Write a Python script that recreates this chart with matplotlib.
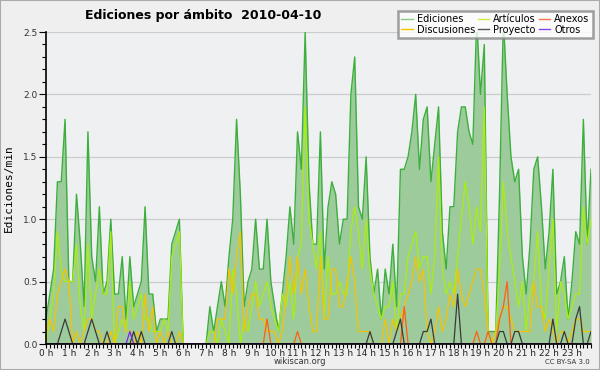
import matplotlib
matplotlib.use("Agg")
import matplotlib.pyplot as plt
import matplotlib.lines as mlines
import numpy as np

# 10-minute slots, 144 values (edits per minute)
ediciones = [0.2, 0.4, 0.6, 1.3, 1.3, 1.8, 0.5, 0.5, 1.2, 0.8, 0.3, 1.7, 0.7, 0.5, 1.1, 0.4, 0.5, 1.0,
             0.4, 0.4, 0.7, 0.2, 0.7, 0.3, 0.4, 0.5, 1.1, 0.4, 0.4, 0.1, 0.2, 0.2, 0.2, 0.8, 0.9, 1.0,
             0, 0, 0, 0, 0, 0, 0, 0.3, 0.1, 0.3, 0.5, 0.3, 0.7, 1.0, 1.8, 1.2, 0.3, 0.5,
             0.6, 1.0, 0.6, 0.6, 1.0, 0.5, 0.3, 0.1, 0.4, 0.7, 1.1, 0.8, 1.7, 1.4, 2.5, 1.3, 0.8, 0.8,
             1.7, 0.6, 1.1, 1.3, 1.2, 0.8, 1.0, 1.0, 2.0, 2.3, 1.1, 1.0, 1.5, 0.7, 0.4, 0.6, 0.2, 0.6,
             0.4, 0.8, 0.3, 1.4, 1.4, 1.5, 1.7, 2.0, 1.4, 1.8, 1.9, 1.3, 1.6, 1.9, 0.9, 0.6, 1.1, 1.1,
             1.7, 1.9, 1.9, 1.7, 1.6, 2.6, 2.0, 2.4, 0.1, 0.1, 0.1, 1.2, 2.6, 2.0, 1.5, 1.3, 1.4, 0.7,
             0.4, 0.8, 1.4, 1.5, 1.1, 0.6, 0.9, 1.4, 0.4, 0.5, 0.7, 0.2, 0.5, 0.9, 0.8, 1.8, 0.8, 1.4]
articulos = [0.0, 0.2, 0.4, 0.9, 0.6, 0.5, 0.5, 0.5, 0.8, 0.3, 0.1, 0.8, 0.2, 0.4, 0.6, 0.4, 0.4, 0.9,
             0.0, 0.1, 0.2, 0.1, 0.5, 0.2, 0.3, 0.4, 0.2, 0.2, 0.1, 0.1, 0.1, 0.2, 0.1, 0.7, 0.8, 0.9,
             0, 0, 0, 0, 0, 0, 0, 0.1, 0.1, 0.0, 0.2, 0.1, 0.0, 0.6, 0.4, 0.0, 0.2, 0.1,
             0.3, 0.5, 0.3, 0.4, 0.5, 0.3, 0.2, 0.1, 0.4, 0.3, 0.5, 0.2, 0.7, 0.8, 1.9, 1.0, 0.8, 0.6,
             0.9, 0.2, 0.7, 0.4, 0.4, 0.5, 0.4, 0.4, 0.9, 1.1, 0.9, 0.6, 1.0, 0.6, 0.4, 0.3, 0.2, 0.3,
             0.3, 0.5, 0.1, 0.4, 0.4, 0.7, 0.8, 0.9, 0.6, 0.7, 0.7, 0.4, 0.7, 1.5, 0.6, 0.4, 0.5, 0.4,
             0.7, 1.0, 1.3, 1.1, 0.8, 1.1, 0.9, 1.9, 0.1, 0.0, 0.1, 0.6, 1.3, 0.9, 0.7, 0.5, 0.3, 0.5,
             0.1, 0.4, 0.5, 0.9, 0.3, 0.2, 0.6, 1.0, 0.1, 0.5, 0.4, 0.2, 0.3, 0.4, 0.4, 1.1, 0.8, 1.0]
discusiones = [0.1, 0.2, 0.1, 0.4, 0.5, 0.6, 0.5, 0.0, 0.1, 0.0, 0.1, 0.2, 0.2, 0.1, 0.1, 0.0, 0.0, 0.1,
               0.0, 0.3, 0.3, 0.1, 0.1, 0.0, 0.1, 0.0, 0.4, 0.1, 0.3, 0.0, 0.1, 0.0, 0.1, 0.0, 0.0, 0.1,
               0, 0, 0, 0, 0, 0, 0, 0.0, 0.0, 0.2, 0.2, 0.2, 0.6, 0.4, 0.7, 0.9, 0.1, 0.3,
               0.4, 0.4, 0.2, 0.2, 0.1, 0.1, 0.1, 0.0, 0.1, 0.4, 0.7, 0.4, 0.7, 0.4, 0.6, 0.3, 0.1, 0.1,
               0.7, 0.2, 0.2, 0.6, 0.6, 0.3, 0.3, 0.5, 0.7, 0.5, 0.1, 0.1, 0.1, 0.1, 0.0, 0.0, 0.0, 0.2,
               0.0, 0.2, 0.1, 0.2, 0.3, 0.4, 0.5, 0.7, 0.5, 0.6, 0.1, 0.0, 0.1, 0.3, 0.1, 0.2, 0.4, 0.3,
               0.6, 0.4, 0.3, 0.4, 0.5, 0.6, 0.6, 0.4, 0.1, 0.0, 0.1, 0.2, 0.3, 0.3, 0.2, 0.1, 0.1, 0.1,
               0.1, 0.1, 0.5, 0.3, 0.3, 0.1, 0.2, 0.1, 0.0, 0.1, 0.1, 0.0, 0.1, 0.2, 0.2, 0.1, 0.1, 0.1]
# sparse series: {slot index: value}
proyecto_pts = {4: 0.1, 5: 0.2, 6: 0.1, 11: 0.1, 12: 0.2, 13: 0.1, 16: 0.1, 23: 0.1, 25: 0.1, 33: 0.1,
                85: 0.1, 92: 0.1, 93: 0.2, 99: 0.1, 100: 0.1, 101: 0.2, 108: 0.4, 119: 0.1, 120: 0.1,
                123: 0.1, 124: 0.1, 133: 0.2, 136: 0.1, 139: 0.2, 140: 0.3, 143: 0.1}
anexos_pts = {58: 0.2, 66: 0.1, 94: 0.3, 113: 0.1, 116: 0.1, 119: 0.2, 120: 0.3, 121: 0.5}
otros_pts = {22: 0.1}
hour_labels = [f"{h} h" for h in range(24)]

n = len(ediciones)
x = np.arange(n)
def dense(pts):
    arr = np.zeros(n)
    for k, v in pts.items():
        arr[k] = v
    return arr
proyecto = dense(proyecto_pts)
anexos = dense(anexos_pts)
otros = dense(otros_pts)

fig = plt.figure(figsize=(6, 3.7), dpi=100, facecolor="#efefef")
fig.patches.append(plt.Rectangle((0, 0), 1, 1, transform=fig.transFigure, fill=False,
                                 edgecolor="#aaaaaa", linewidth=1.5))
ax = fig.add_axes([46/600, 26/370, 545/600, 312/370])
ax.set_facecolor("#eef0f2")

ax.fill_between(x, ediciones, 0, color="#9dcb9b", linewidth=0, zorder=2)
ax.plot(x, ediciones, color="#3daf3d", lw=1.0, zorder=3)
ax.plot(x, articulos, color="#aaee11", lw=0.9, zorder=4)
ax.plot(x, discusiones, color="#f5c400", lw=0.9, zorder=4)
ax.plot(x, anexos, color="#ff5f10", lw=0.9, zorder=5)
ax.plot(x, proyecto, color="#3a3a3a", lw=0.9, zorder=5)
ax.plot(x, otros, color="#7a22ee", lw=0.9, zorder=5)

ax.set_xlim(0, n - 1)
ax.set_ylim(0, 2.5)
ax.set_yticks(np.arange(0, 2.51, 0.5))
ax.set_yticks(np.arange(0, 2.51, 0.1), minor=True)
ax.set_yticklabels([f"{v:.1f}" for v in np.arange(0, 2.51, 0.5)])
ax.set_xticks(np.arange(0, n, 6))
ax.set_xticklabels(hour_labels)
ax.set_xticks(x, minor=True)
ax.grid(axis="y", which="major", color="#cccccc", lw=0.9, zorder=1)
ax.tick_params(axis="both", which="both", direction="out", color="black", width=0.8)
ax.tick_params(axis="x", which="both", length=3, labelsize=6.5, pad=0.5, labelcolor="#222222")
ax.tick_params(axis="y", which="major", length=5, labelsize=6.5, pad=1, labelcolor="#333333")
ax.tick_params(axis="y", which="minor", length=3)
for s in ["top", "right"]:
    ax.spines[s].set_visible(False)
for s in ["left", "bottom"]:
    ax.spines[s].set_color("black")
    ax.spines[s].set_linewidth(1.2)
    ax.spines[s].set_zorder(6)

ax.set_ylabel("Ediciones/min", fontsize=8, family="DejaVu Sans Mono", labelpad=7)

order = ["Ediciones", "Discusiones", "Artículos", "Proyecto", "Anexos", "Otros"]
leg_colors = {"Ediciones": "#88cc88", "Discusiones": "#f5c400", "Artículos": "#ccee44",
              "Proyecto": "#555555", "Anexos": "#ff7744", "Otros": "#8844ee"}
handles = [mlines.Line2D([], [], color=leg_colors[k], lw=1.0) for k in order]
leg = fig.legend(handles, order, ncol=3, loc="upper right", bbox_to_anchor=(593/600, 1 - 11/370),
                 fontsize=7, frameon=True, fancybox=False, edgecolor="#888888",
                 handlelength=1.2, handletextpad=0.4, columnspacing=0.3, labelspacing=0.05,
                 borderpad=0.35, borderaxespad=0)
leg.get_frame().set_linewidth(1.8)
leg.get_frame().set_facecolor("white")

fig.text(85/600, 1 - 15/370, "Ediciones por ámbito  2010-04-10", fontsize=9, fontweight="bold",
         ha="left", va="center")
fig.text(300/600, 1 - 362/370, "wikiscan.org", fontsize=6, ha="center", va="center", color="#333333")
fig.text(590/600, 1 - 362/370, "CC BY-SA 3.0", fontsize=5, ha="right", va="center", color="#333333")

fig.savefig("out.png", dpi=100, facecolor=fig.get_facecolor())
